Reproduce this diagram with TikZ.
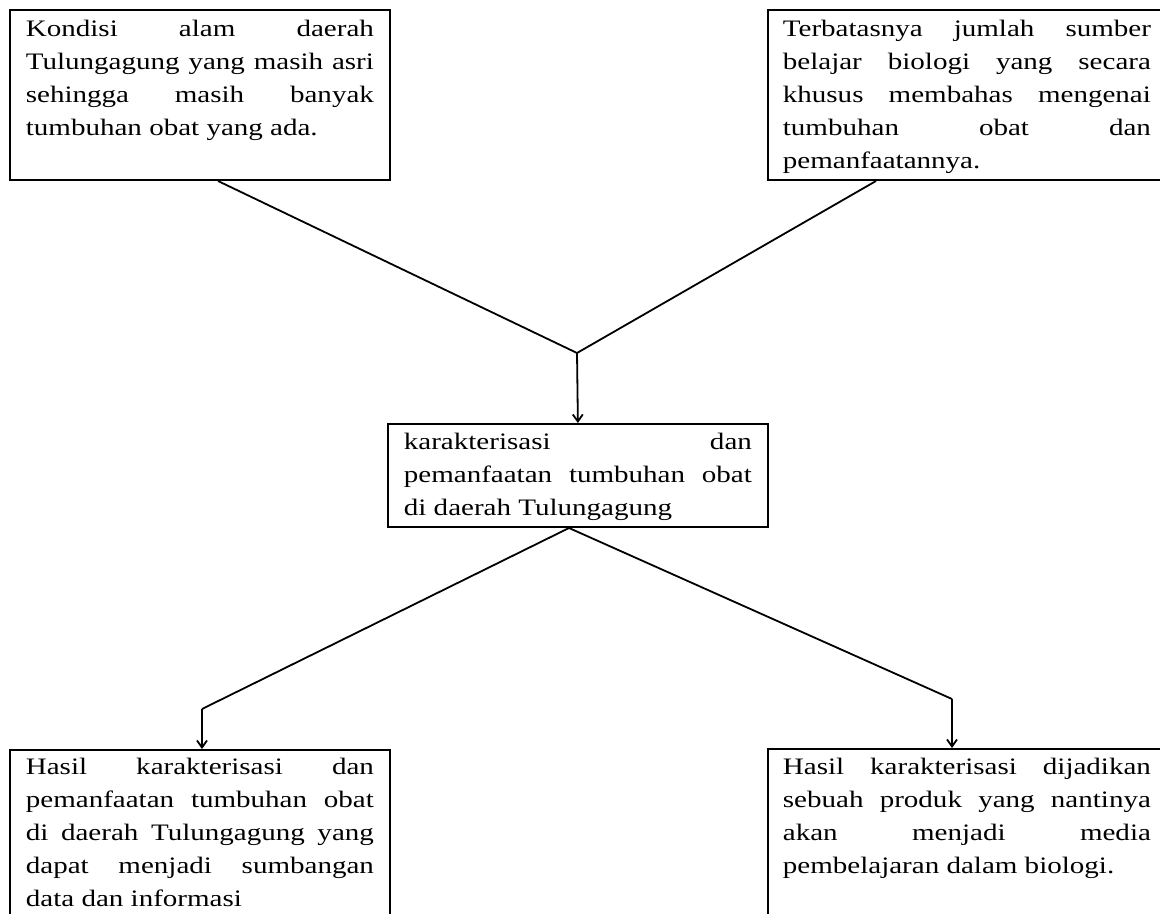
\documentclass[tikz,border=0pt]{standalone}
\usepackage{fontspec}
\setmainfont{Liberation Serif}[FakeStretch=1.23]
\usepackage{tikz}
\usetikzlibrary{arrows.meta}
\hyphenpenalty=10000
\tolerance=9999
\tikzset{
  kotak/.style={draw, line width=0.9pt, anchor=north west, inner xsep=8pt, inner ysep=0pt,
                align=justify, text width=174pt, font=\fontsize{11.8}{16.5}\selectfont},
  garis/.style={line width=0.9pt},
  panah/.style={garis, -{Straight Barb[length=3.5pt,width=5pt]}},
}
\begin{document}
\begin{tikzpicture}[x=0.5pt, y=-0.5pt]
    \useasboundingbox (0,0) rectangle (1160,914);
    \clip (0,0) rectangle (1160,914);
    % kotak atas
    \node[kotak, text height=13.5pt, text depth=71.5pt] (kondisi) at (9,9)
      {Kondisi alam daerah\linebreak Tulungagung yang masih asri\linebreak sehingga masih banyak\linebreak tumbuhan obat yang ada.};
    \node[kotak, inner xsep=7.5pt, text width=184pt, text height=13.5pt, text depth=71.5pt] (terbatas) at (767,9)
      {Terbatasnya jumlah sumber\linebreak belajar biologi yang secara\linebreak khusus membahas mengenai\linebreak tumbuhan obat dan\linebreak pemanfaatannya.};
    % kotak tengah
    \node[kotak, text height=13pt, text depth=38.5pt] (pusat) at (387,423)
      {karakterisasi dan\linebreak pemanfaatan tumbuhan obat\linebreak di daerah Tulungagung};
    % kotak bawah
    \node[kotak, text height=12.5pt, text depth=100pt] (hasil) at (9,749)
      {Hasil karakterisasi dan\linebreak pemanfaatan tumbuhan obat\linebreak di daerah Tulungagung yang\linebreak dapat menjadi sumbangan\linebreak data dan informasi};
    \node[kotak, inner xsep=7.5pt, text width=184pt, text height=13pt, text depth=100pt] (produk) at (767,748)
      {Hasil karakterisasi dijadikan\linebreak sebuah produk yang nantinya\linebreak akan menjadi media\linebreak pembelajaran dalam biologi.};
    \coordinate (k1) at (218,181);
    \coordinate (t1) at (876,181);
    \coordinate (temu) at (577,353);
    \coordinate (p1) at (569,528);
    \coordinate (b1) at (202,709);
    \coordinate (b2) at (952,699);
    \draw[garis] (k1) -- (temu) -- (t1);
    \draw[panah] (temu) -- (pusat.north);
    \draw[garis] (b1) -- (p1) -- (b2);
    \draw[panah] (b1) -- (b1 |- hasil.north);
    \draw[panah] (b2) -- (b2 |- produk.north);
  \end{tikzpicture}
\end{document}
